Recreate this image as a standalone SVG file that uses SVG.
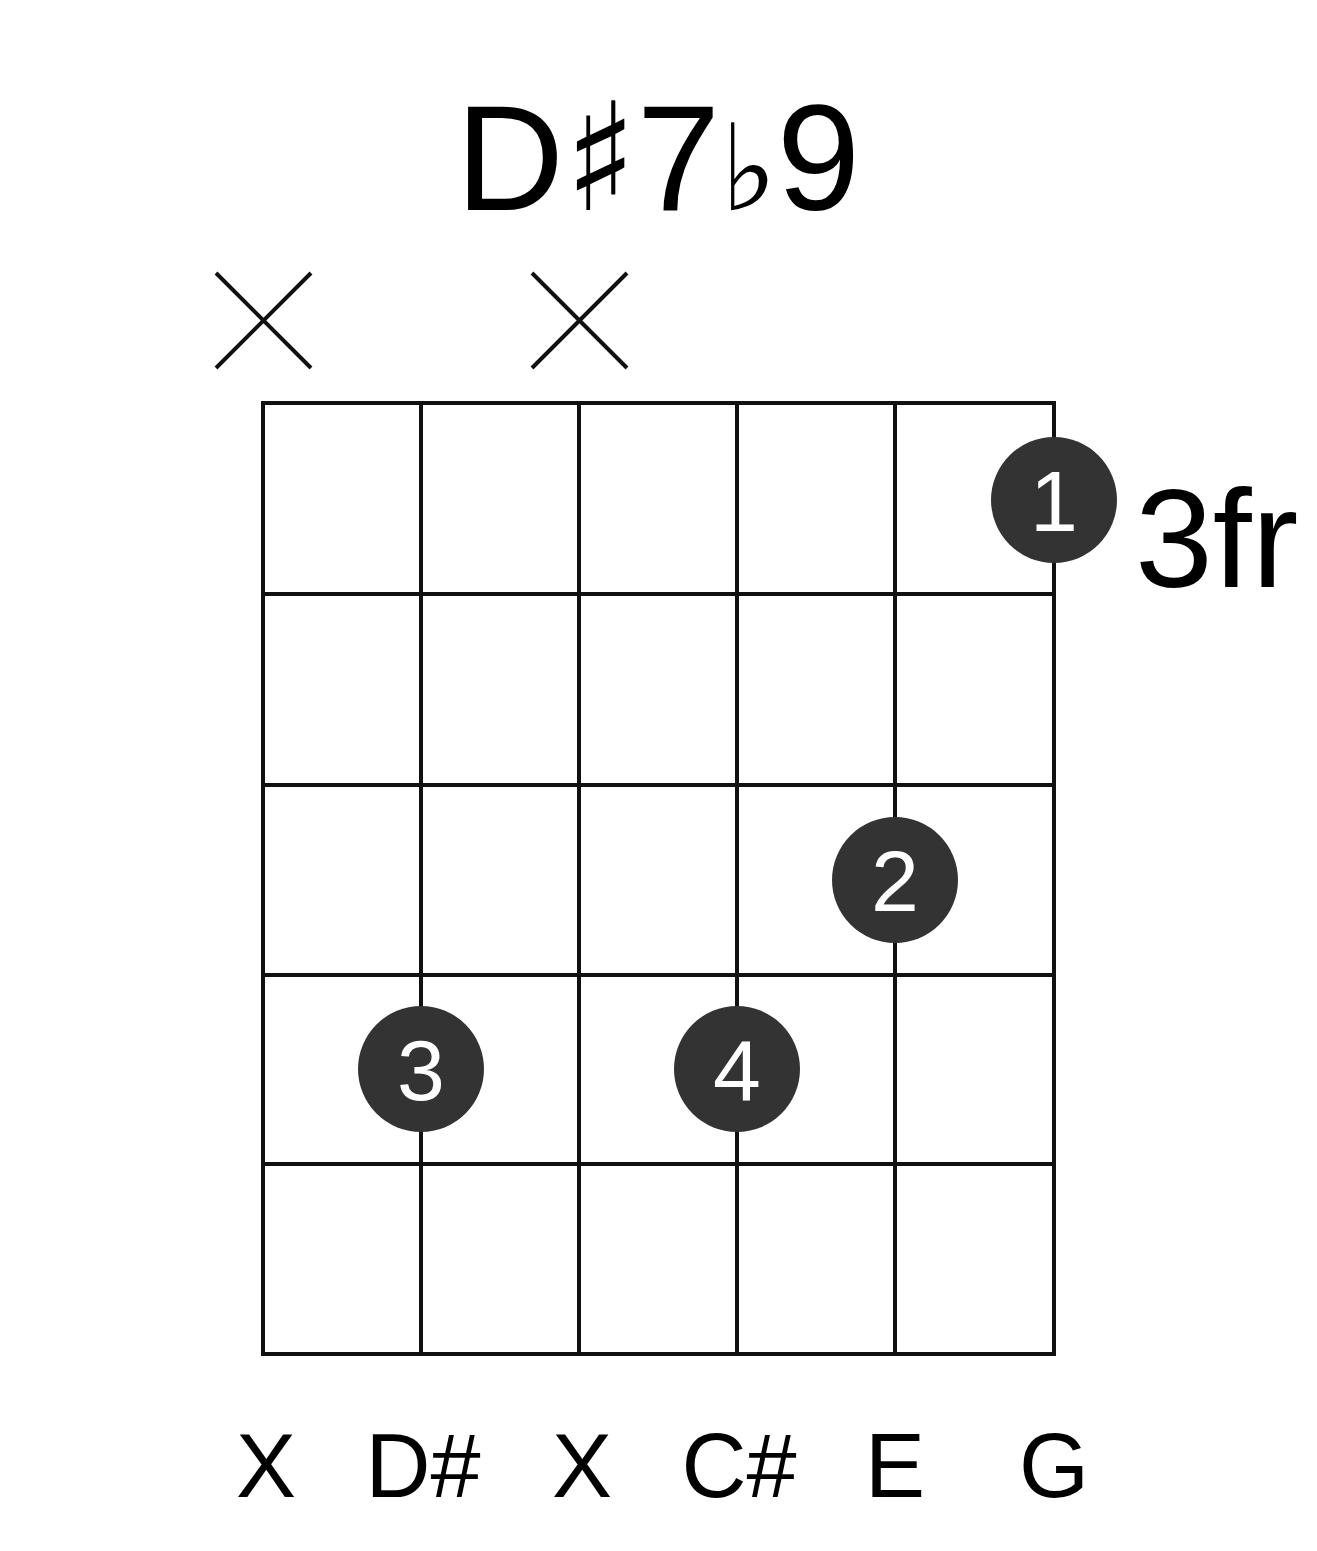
<svg xmlns="http://www.w3.org/2000/svg" width="1317" height="1551" viewBox="0 0 1317 1551">
<style>
.g{stroke:#111;stroke-width:4;fill:none}
.t{font-family:"Liberation Sans",Arial,sans-serif;fill:#000}
.d{fill:#333}
.n{font-family:"Liberation Sans",Arial,sans-serif;fill:#fff;font-size:86px;text-anchor:middle}
.l{font-size:90px;text-anchor:middle}
</style>
<rect width="1317" height="1551" fill="#fff"/>
<text class="t" x="658" y="210" font-size="150" text-anchor="middle">D<tspan font-family="DejaVu Sans,sans-serif">♯</tspan>7<tspan font-family="DejaVu Sans,sans-serif" font-size="120">♭</tspan>9</text>
<g id="mutes" class="g" stroke-width="3">
<path d="M216 273L311 368M311 273L216 368M532 273L627 368M627 273L532 368"/>
</g>
<g id="grid" class="g">
<rect x="263" y="403" width="791" height="951"/>
<path d="M421 403V1354M579 403V1354M737 403V1354M895 403V1354M263 594H1054M263 785H1054M263 975H1054M263 1164H1054"/>
</g>
<g id="dot1"><circle class="d" cx="1054" cy="500" r="63"/><text class="n" x="1054" y="531">1</text></g>
<g id="dot2"><circle class="d" cx="895" cy="880" r="63"/><text class="n" x="895" y="911">2</text></g>
<g id="dot3"><circle class="d" cx="421" cy="1069" r="63"/><text class="n" x="421" y="1100">3</text></g>
<g id="dot4"><circle class="d" cx="737" cy="1069" r="63"/><text class="n" x="737" y="1100">4</text></g>
<text class="t" x="1135" y="587" font-size="140">3fr</text>
<g id="labels" class="t">
<text class="t l" x="266" y="1497">X</text>
<text class="t l" x="423" y="1497">D#</text>
<text class="t l" x="582" y="1497">X</text>
<text class="t l" x="739" y="1497">C#</text>
<text class="t l" x="895" y="1497">E</text>
<text class="t l" x="1054" y="1497">G</text>
</g>
</svg>
